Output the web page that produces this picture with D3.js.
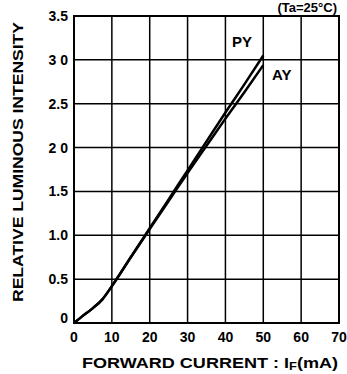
<!DOCTYPE html>
<html>
<head>
<meta charset="utf-8">
<script src="https://cdn.jsdelivr.net/npm/d3@7"></script>
<style>
body{margin:0;background:#fff;}
text{font-family:"Liberation Sans",Arial,sans-serif;font-weight:bold;fill:#000;}
</style>
</head>
<body>
<svg id="myGraph" width="347" height="374"></svg>
<script>
var current=[0,2,5,7.5,10,15,20,25,30,35,40,45,50];
var py=[0,0.07,0.17,0.27,0.42,0.75,1.08,1.41,1.74,2.07,2.40,2.72,3.05];
var ay=[0,0.07,0.17,0.27,0.42,0.75,1.07,1.39,1.71,2.02,2.33,2.63,2.94];
var xTicks=[0,10,20,30,40,50,60,70];
var yTicks=[0,0.5,1.0,1.5,2.0,2.5,3.0,3.5];
var yTickLabels=["0","0.5","1.0","1.5","2 0","2.5","3 0","3.5"];

var svg=d3.select("#myGraph");
var x=d3.scaleLinear().domain([0,70]).range([74,339]);
var y=d3.scaleLinear().domain([0,3.5]).range([323,16]);

// grid
svg.append("g").selectAll("line").data(xTicks).enter().append("line")
	.attr("x1",function(d){return x(d);}).attr("x2",function(d){return x(d);})
	.attr("y1",y(0)).attr("y2",y(3.5))
	.attr("stroke","#000").attr("stroke-width",1.5);
svg.append("g").selectAll("line").data(yTicks).enter().append("line")
	.attr("x1",x(0)).attr("x2",x(70))
	.attr("y1",function(d){return y(d);}).attr("y2",function(d){return y(d);})
	.attr("stroke","#000").attr("stroke-width",1.5);
svg.append("rect").attr("x",x(0)).attr("y",y(3.5))
	.attr("width",x(70)-x(0)).attr("height",y(0)-y(3.5))
	.attr("fill","none").attr("stroke","#000").attr("stroke-width",2);

// curves
var line=d3.line().x(function(d){return x(d[0]);}).y(function(d){return y(d[1]);}).curve(d3.curveMonotoneX);
[py,ay].forEach(function(s){
	svg.append("path").datum(current.map(function(c,i){return [c,s[i]];}))
		.attr("d",line).attr("fill","none").attr("stroke","#000").attr("stroke-width",2.5);
});

// tick labels
svg.append("g").selectAll("text").data(xTicks).enter().append("text")
	.attr("x",function(d){return x(d);}).attr("y",342)
	.attr("text-anchor","middle").style("font-size","14px")
	.text(function(d){return d;});
svg.append("g").selectAll("text").data(yTicks).enter().append("text")
	.attr("x",68).attr("y",function(d){return y(d)+ (d===0?0:5);})
	.attr("text-anchor","end").style("font-size","14px")
	.text(function(d,i){return yTickLabels[i];});

// titles
var xt=svg.append("text").attr("x",82).attr("y",368).style("font-size","14px")
	.attr("textLength",256).attr("lengthAdjust","spacingAndGlyphs");
xt.append("tspan").text("FORWARD  CURRENT  : I");
xt.append("tspan").attr("dy",2).style("font-size","10px").text("F");
xt.append("tspan").attr("dy",-2).text("(mA)");

svg.append("text").attr("transform","translate(23,162) rotate(-90)")
	.attr("text-anchor","middle").style("font-size","15px")
	.attr("textLength",280).attr("lengthAdjust","spacingAndGlyphs")
	.text("RELATIVE  LUMINOUS  INTENSITY");

svg.append("text").attr("x",337).attr("y",12).attr("text-anchor","end")
	.style("font-size","13px").text("(Ta=25°C)");

svg.append("text").attr("x",232).attr("y",47).style("font-size","15px").text("PY");
svg.append("text").attr("x",272).attr("y",80).style("font-size","15px").text("AY");
</script>
</body>
</html>
